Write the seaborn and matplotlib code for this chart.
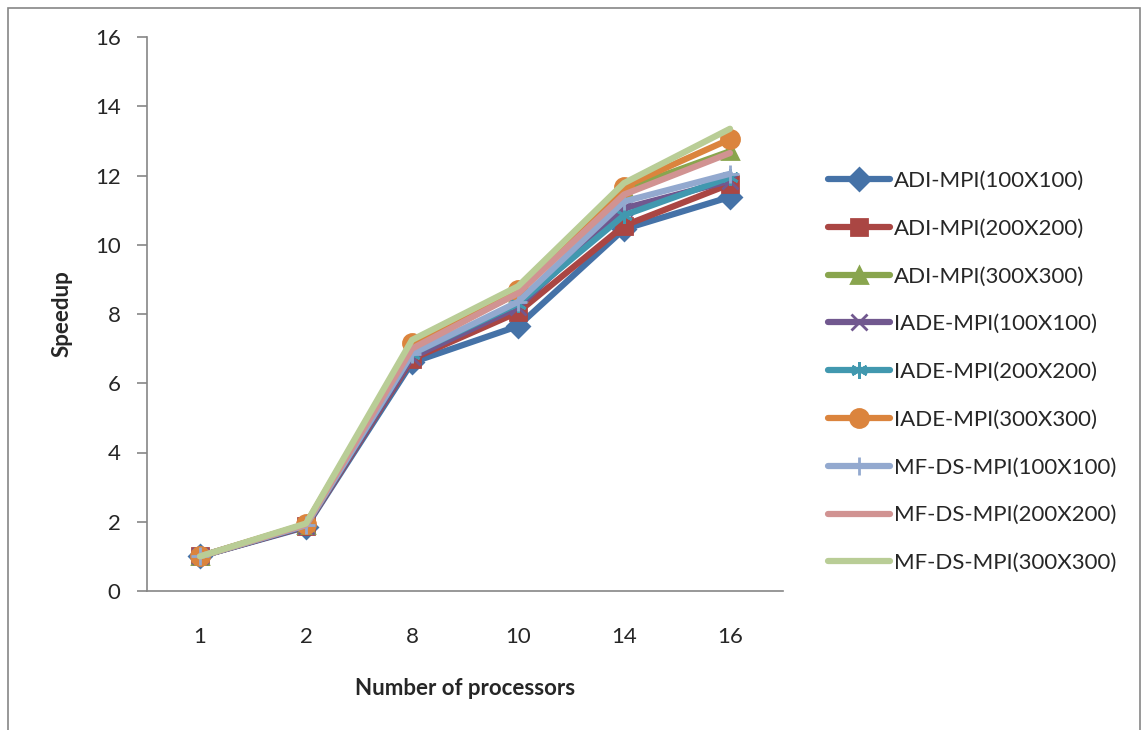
import matplotlib
matplotlib.use("Agg")
import matplotlib.pyplot as plt
import seaborn as sns
import pandas as pd
from matplotlib.patches import Rectangle

processors = ["1", "2", "8", "10", "14", "16"]
series_names = [
    "ADI-MPI(100X100)", "ADI-MPI(200X200)", "ADI-MPI(300X300)",
    "IADE-MPI(100X100)", "IADE-MPI(200X200)", "IADE-MPI(300X300)",
    "MF-DS-MPI(100X100)", "MF-DS-MPI(200X200)", "MF-DS-MPI(300X300)",
]
adi_100 = [1.0, 1.85, 6.60, 7.65, 10.45, 11.38]
adi_200 = [1.0, 1.87, 6.70, 8.05, 10.55, 11.75]
adi_300 = [1.0, 1.92, 7.10, 8.60, 11.60, 12.70]
iade_100 = [1.0, 1.88, 6.75, 8.20, 11.05, 11.85]
iade_200 = [1.0, 1.90, 6.85, 8.30, 10.85, 11.95]
iade_300 = [1.0, 1.93, 7.15, 8.70, 11.68, 13.05]
mfds_100 = [1.0, 1.90, 6.85, 8.35, 11.25, 12.05]
mfds_200 = [1.0, 1.92, 7.00, 8.60, 11.45, 12.65]
mfds_300 = [1.0, 1.95, 7.25, 8.80, 11.78, 13.35]
all_values = [adi_100, adi_200, adi_300, iade_100, iade_200, iade_300,
              mfds_100, mfds_200, mfds_300]

colors = ["#4572A7", "#AA4643", "#89A54E", "#71588F", "#4198AF",
          "#DB843D", "#93A9CF", "#D19392", "#B9CD96"]
markers = ["D", "s", "^", "x", (6, 2, 0), "o", "+", None, None]
msizes = [11, 12, 12, 11, 12, 13, 13, 0, 0]

sns.set_theme(style="white")
plt.rcParams["font.family"] = ["Lato", "DejaVu Sans"]

fig = plt.figure(figsize=(11.42, 7.30), dpi=100)
ax = fig.add_axes([147 / 1142, 1 - 591 / 730, (783 - 147) / 1142, (591 - 37) / 730])

for name, vals, c, m, ms in zip(series_names, all_values, colors, markers, msizes):
    df = pd.DataFrame({"Processors": processors, "Speedup": vals})
    kw = dict(marker=m, markersize=ms, markerfacecolor=c, markeredgecolor=c,
              markeredgewidth=2) if m is not None else dict(marker=None)
    sns.lineplot(data=df, x="Processors", y="Speedup", ax=ax, color=c,
                 linewidth=4.5, label=name, sort=False, **kw)

ax.set_xlim(-0.5, 5.5)
ax.set_ylim(0, 16)
ax.set_yticks(range(0, 17, 2))
ax.tick_params(axis="y", direction="out", length=7, width=1.2, color="#868686",
               labelsize=16, pad=12, left=True)
ax.tick_params(axis="x", length=0, labelsize=16, pad=26)
for s in ["top", "right"]:
    ax.spines[s].set_visible(False)
for s in ["left", "bottom"]:
    ax.spines[s].set_color("#868686")
    ax.spines[s].set_linewidth(1.2)
ax.grid(False)

ax.set_xlabel("Number of processors", fontsize=16, fontweight="bold", labelpad=22)
ax.set_ylabel("Speedup", fontsize=16, fontweight="bold", labelpad=16)

leg = ax.legend(loc="center left", bbox_to_anchor=(808 / 1142, 1 - 372 / 730),
                bbox_transform=fig.transFigure, frameon=False, fontsize=16,
                labelspacing=1.25, handlelength=2.8, handletextpad=0.15)

fig.patches.append(Rectangle((8 / 1142, -0.05), (1140 - 8) / 1142, 1.05 - 8 / 730,
                             transform=fig.transFigure, fill=False,
                             edgecolor="#868686", linewidth=1.2))

fig.savefig("out.png", dpi=100)
